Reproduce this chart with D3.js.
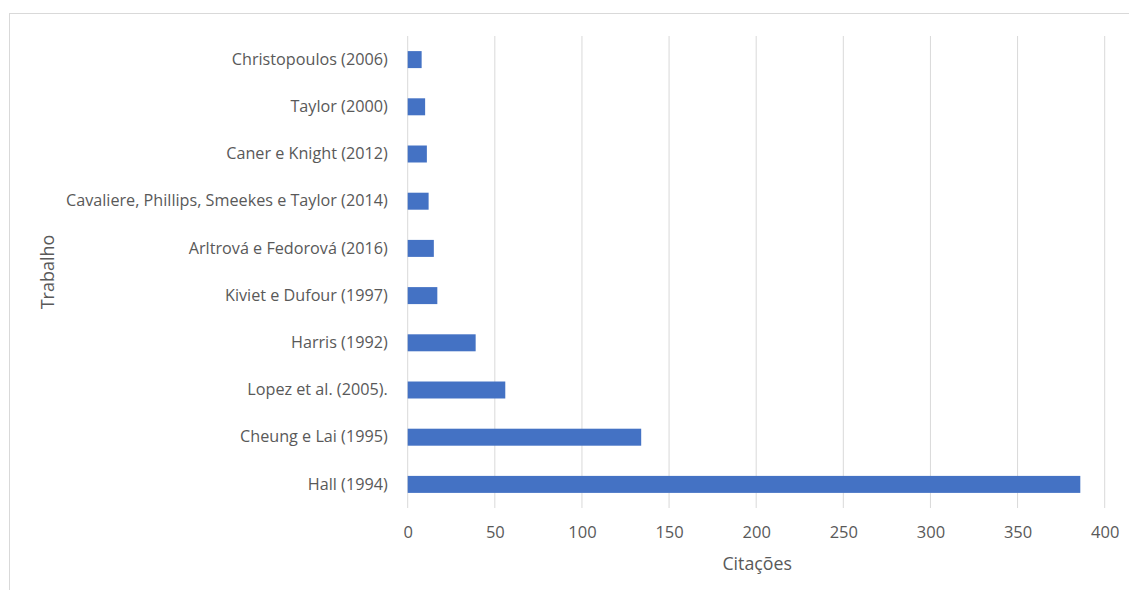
<!DOCTYPE html>
<html>
<head>
<meta charset="utf-8">
<script src="https://cdn.jsdelivr.net/npm/d3@7"></script>
<style>
  body { margin: 0; background: #fff; }
  svg { display: block; }
  text { font-family: "Open Sans", "Noto Sans", sans-serif; fill: #595959; }
</style>
</head>
<body>
<svg id="chart" width="1129" height="590"></svg>
<script>
// Citation counts per paper (bottom to top as shown)
const works = [
  "Hall (1994)",
  "Cheung e Lai (1995)",
  "Lopez et al. (2005).",
  "Harris (1992)",
  "Kiviet e Dufour (1997)",
  "Arltrová e Fedorová (2016)",
  "Cavaliere, Phillips, Smeekes e Taylor (2014)",
  "Caner e Knight (2012)",
  "Taylor (2000)",
  "Christopoulos (2006)"
];
const citations = [386, 134, 56, 39, 17, 15, 12, 11, 10, 8];
const xTicks = [0, 50, 100, 150, 200, 250, 300, 350, 400];

const svg = d3.select("#chart");
const W = 1129, H = 590;
const plot = { left: 407.7, right: 1104.7, top: 36, bottom: 508 };
const font = '"Open Sans", "Noto Sans", sans-serif';

// outer chart frame
svg.append("rect")
  .attr("x", 9.5).attr("y", 13.5)
  .attr("width", W + 10).attr("height", H + 10)
  .attr("fill", "none").attr("stroke", "#d9d9d9").attr("stroke-width", 1);

const x = d3.scaleLinear().domain([0, 400]).range([plot.left, plot.right]);
const y = d3.scaleBand()
  .domain(works.slice().reverse())
  .range([plot.top, plot.bottom])
  .paddingInner(0.64).paddingOuter(0.32);

// vertical gridlines
svg.append("g").selectAll("line")
  .data(xTicks)
  .join("line")
  .attr("x1", d => x(d)).attr("x2", d => x(d))
  .attr("y1", plot.top).attr("y2", plot.bottom)
  .attr("stroke", "#d9d9d9").attr("stroke-width", 1);

// bars
svg.append("g").selectAll("rect")
  .data(works.map((w, i) => ({ w, v: citations[i] })))
  .join("rect")
  .attr("x", x(0))
  .attr("y", d => y(d.w))
  .attr("width", d => x(d.v) - x(0))
  .attr("height", y.bandwidth())
  .attr("fill", "#4472c4");

// x axis tick labels
const xAxis = d3.axisBottom(x).tickValues(xTicks).tickSize(0).tickPadding(0);
const gx = svg.append("g").attr("transform", `translate(0,${plot.bottom + 18})`).call(xAxis);
gx.select(".domain").remove();
gx.selectAll("text").attr("font-size", 16.5).attr("dy", "0.71em")
  .style("font-family", font).attr("fill", "#595959");

// category labels
const yAxis = d3.axisLeft(y).tickSize(0).tickPadding(0);
const gy = svg.append("g").attr("transform", `translate(${plot.left - 20},0)`).call(yAxis);
gy.select(".domain").remove();
gy.selectAll("text").attr("font-size", 16.2)
  .style("font-family", font).attr("fill", "#595959");

// axis titles
svg.append("text")
  .attr("x", (plot.left + plot.right) / 2 + 1).attr("y", 570)
  .attr("text-anchor", "middle").attr("font-size", 17.8)
  .text("Citações");

svg.append("text")
  .attr("transform", `translate(54,${(plot.top + plot.bottom) / 2}) rotate(-90)`)
  .attr("text-anchor", "middle").attr("font-size", 18)
  .text("Trabalho");
</script>
</body>
</html>
